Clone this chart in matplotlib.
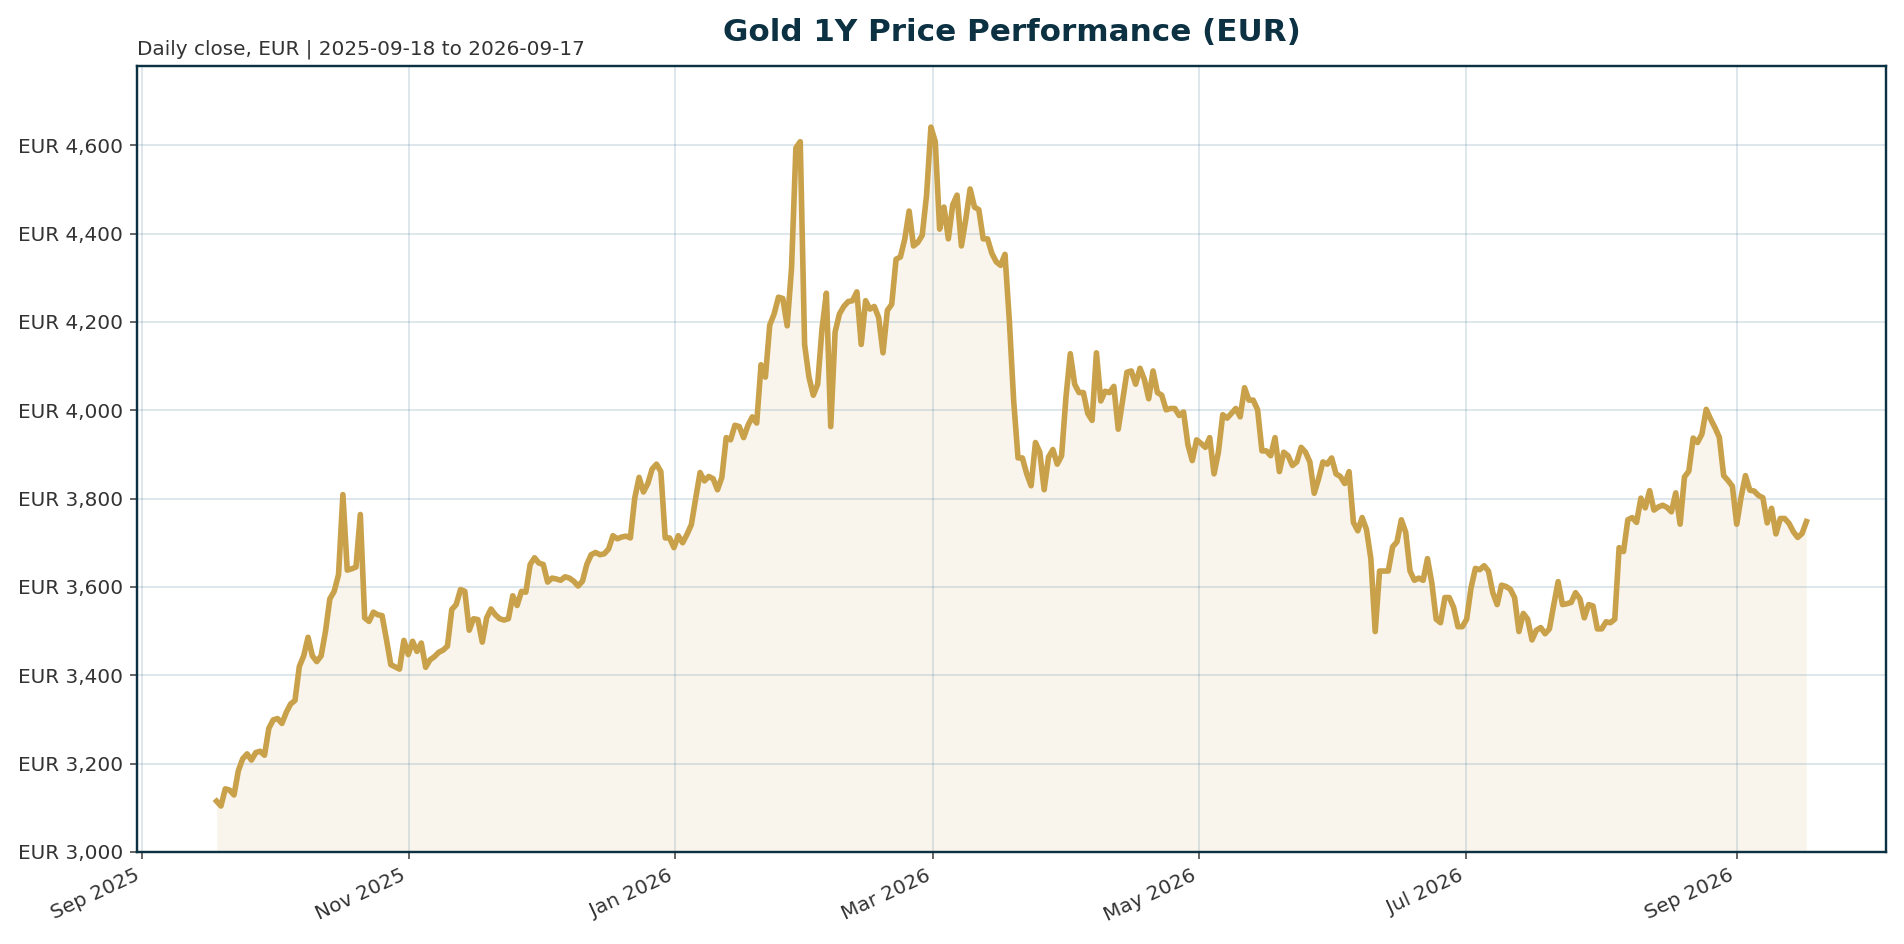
import matplotlib
matplotlib.use("Agg")
import matplotlib.pyplot as plt
import matplotlib.dates as mdates
from matplotlib.ticker import FuncFormatter, MultipleLocator
import pandas as pd

start_date = "2025-09-18"
end_date = "2026-09-17"

# daily close in EUR
close_eur = [
    3115, 3104, 3143, 3140, 3129, 3184, 3211, 3222, 3208, 3225, 3228, 3219, 3280, 3299, 3302, 3291,
    3316, 3335, 3343, 3420, 3444, 3486, 3444, 3431, 3444, 3499, 3573, 3590, 3628, 3809, 3638, 3641,
    3645, 3764, 3530, 3522, 3543, 3537, 3535, 3481, 3424, 3419, 3414, 3479, 3447, 3477, 3454, 3473,
    3418, 3435, 3442, 3452, 3457, 3466, 3549, 3560, 3594, 3590, 3502, 3528, 3526, 3475, 3530, 3550,
    3537, 3528, 3525, 3528, 3580, 3558, 3590, 3588, 3651, 3666, 3654, 3651, 3611, 3620, 3618, 3615,
    3623, 3620, 3613, 3602, 3613, 3651, 3673, 3678, 3673, 3675, 3686, 3716, 3709, 3713, 3715, 3711,
    3801, 3848, 3815, 3834, 3867, 3878, 3861, 3711, 3711, 3689, 3716, 3700, 3719, 3741, 3801, 3859,
    3840, 3850, 3845, 3820, 3848, 3938, 3933, 3966, 3963, 3938, 3966, 3985, 3971, 4103, 4075, 4193,
    4218, 4256, 4253, 4191, 4322, 4594, 4608, 4149, 4075, 4034, 4059, 4185, 4265, 3963, 4177, 4218,
    4235, 4246, 4248, 4268, 4149, 4248, 4229, 4235, 4210, 4130, 4226, 4240, 4342, 4347, 4388, 4451,
    4372, 4380, 4396, 4487, 4641, 4608, 4410, 4460, 4388, 4465, 4487, 4372, 4432, 4501, 4460, 4454,
    4388, 4388, 4355, 4336, 4328, 4353, 4204, 4021, 3892, 3892, 3856, 3829, 3927, 3905, 3820, 3894,
    3911, 3878, 3897, 4029, 4128, 4059, 4040, 4040, 3993, 3977, 4130, 4021, 4043, 4040, 4054, 3957,
    4021, 4086, 4089, 4059, 4095, 4070, 4026, 4089, 4040, 4034, 4001, 4004, 4004, 3988, 3996, 3922,
    3886, 3933, 3925, 3916, 3938, 3856, 3905, 3990, 3982, 3993, 4004, 3985, 4051, 4023, 4023, 4001,
    3908, 3908, 3897, 3938, 3861, 3905, 3897, 3875, 3883, 3916, 3905, 3883, 3812, 3845, 3883, 3878,
    3892, 3856, 3850, 3834, 3861, 3746, 3727, 3757, 3730, 3664, 3499, 3636, 3636, 3636, 3691, 3702,
    3752, 3724, 3636, 3615, 3620, 3615, 3664, 3609, 3527, 3519, 3576, 3576, 3554, 3510, 3510, 3527,
    3598, 3642, 3639, 3648, 3636, 3587, 3560, 3604, 3601, 3595, 3576, 3499, 3540, 3527, 3480, 3502,
    3508, 3494, 3505, 3560, 3612, 3560, 3562, 3565, 3587, 3573, 3530, 3560, 3557, 3505, 3505, 3521,
    3519, 3527, 3689, 3680, 3752, 3757, 3746, 3801, 3779, 3818, 3774, 3781, 3785, 3780, 3770, 3813,
    3742, 3849, 3862, 3937, 3927, 3946, 4002, 3980, 3961, 3939, 3852, 3841, 3828, 3742, 3803, 3852,
    3819, 3817, 3807, 3802, 3745, 3778, 3720, 3755, 3755, 3744, 3725, 3712, 3721, 3748,
]

dates = pd.date_range(start_date, end_date, periods=len(close_eur))

gold = "#C9A14A"
navy = "#0B3142"

fig = plt.figure(figsize=(1904 / 144, 944 / 144), dpi=144)
ax = fig.add_axes([0.072, 0.0975, 0.9185, 0.833])

ax.fill_between(dates, close_eur, 3000, color=gold, alpha=0.1, linewidth=0)
ax.plot(dates, close_eur, color=gold, linewidth=2.8)

ax.set_ylim(3000, max(close_eur) * 1.03)
ax.yaxis.set_major_locator(MultipleLocator(200))
ax.yaxis.set_major_formatter(FuncFormatter(lambda v, _: f"EUR {v:,.0f}"))

ax.xaxis.set_major_locator(mdates.MonthLocator(bymonth=[1, 3, 5, 7, 9, 11]))
ax.xaxis.set_major_formatter(mdates.DateFormatter("%b %Y"))
plt.setp(ax.get_xticklabels(), rotation=25, ha="right")

ax.grid(True, color="#0B5575", alpha=0.15, linewidth=0.9)
ax.tick_params(labelsize=10, labelcolor="#333333", color="#444444")
for spine in ax.spines.values():
    spine.set_color(navy)
    spine.set_linewidth(1.2)

ax.set_title("Gold 1Y Price Performance (EUR)", fontsize=15.5, fontweight="bold",
             color=navy, pad=12.5)
ax.text(0.0, 1.008, "Daily close, EUR | " + start_date + " to " + end_date,
        transform=ax.transAxes, fontsize=10, color="#333333", va="bottom", ha="left")

fig.savefig("out.png", dpi=144)
